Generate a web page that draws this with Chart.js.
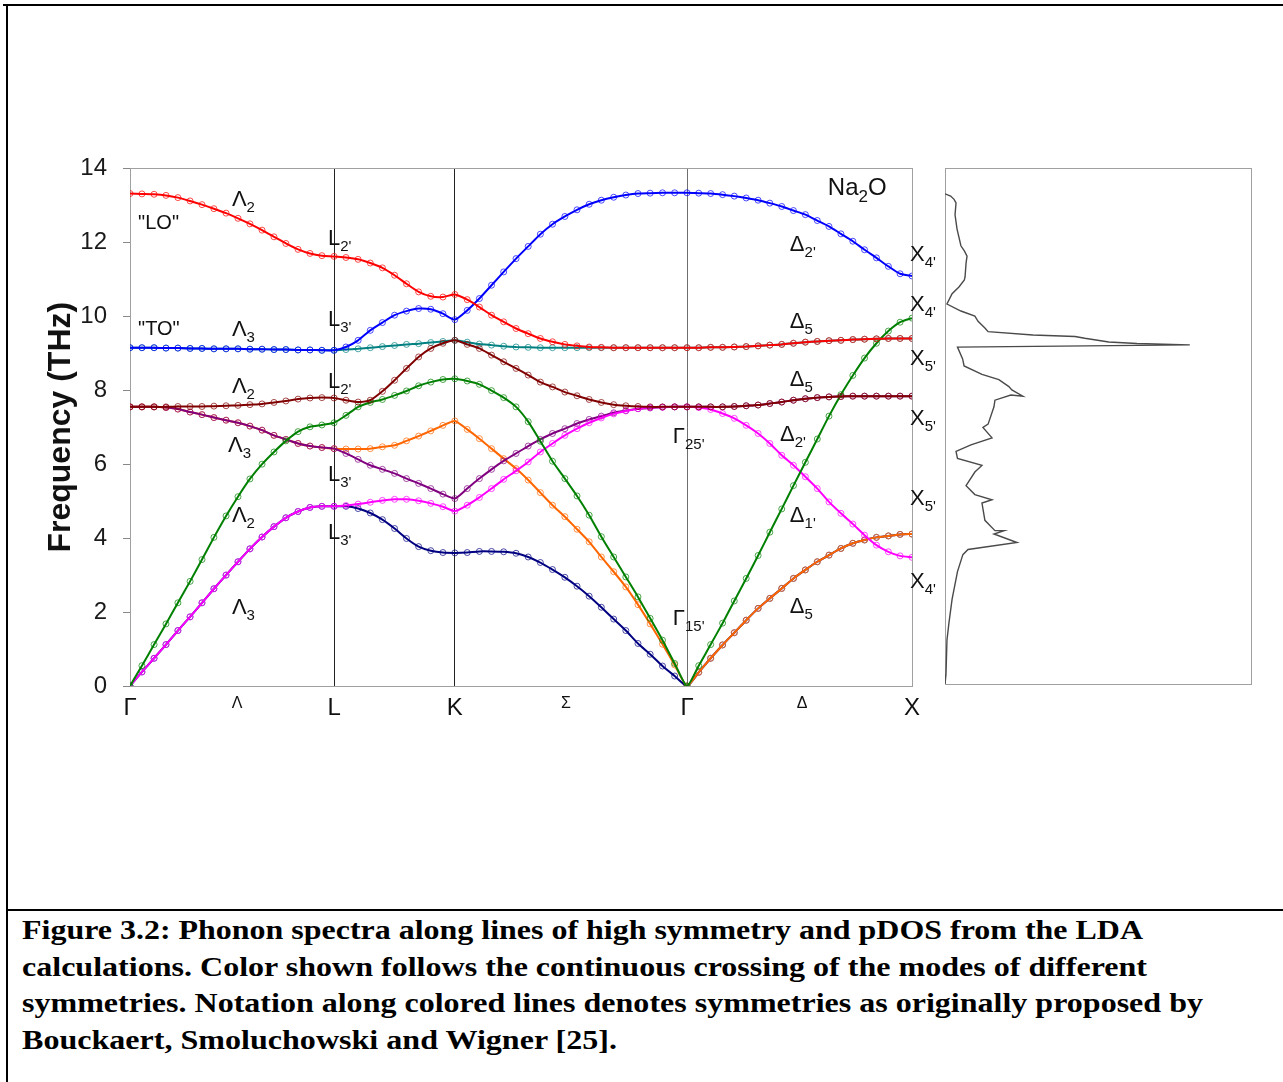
<!DOCTYPE html>
<html>
<head>
<meta charset="utf-8">
<title>Na2O phonon spectra</title>
<script src="https://cdn.jsdelivr.net/npm/chart.js@4.4.1/dist/chart.umd.min.js"></script>
<style>
  html, body { margin: 0; padding: 0; background: #fff; }
  body { width: 1283px; height: 1082px; position: relative; overflow: hidden; }
  .rule { position: absolute; background: #000; }
  #main { position: absolute; left: 30px; top: 138px; }
  #dos { position: absolute; left: 940px; top: 150px; }
  #caption {
    position: absolute; left: 22px; top: 912px;
    font-family: "Liberation Serif", "Times New Roman", serif;
    font-weight: bold; font-size: 28px; line-height: 36.5px; color: #000;
  }
  #caption div { white-space: nowrap; width: max-content; transform-origin: 0 0; }
</style>
</head>
<body>
<div class="rule" style="left:3px;top:4px;width:1280px;height:2px"></div>
<div class="rule" style="left:6px;top:4px;width:2px;height:1078px"></div>
<div class="rule" style="left:6px;top:909px;width:1277px;height:2px"></div>

<canvas id="main" width="915" height="592"></canvas>
<canvas id="dos" width="320" height="560"></canvas>

<div id="caption">
  <div data-w="1121">Figure 3.2: Phonon spectra along lines of high symmetry and pDOS from the LDA</div>
  <div data-w="1125">calculations. Color shown follows the continuous crossing of the modes of different</div>
  <div data-w="1181">symmetries. Notation along colored lines denotes symmetries as originally proposed by</div>
  <div data-w="595">Bouckaert, Smoluchowski and Wigner [25].</div>
</div>

<script>
// k-path coordinate (units of |ΓX|): Γ - L - K - Γ - X
const kPath = [
  0.000, 0.053, 0.107, 0.160, 0.213, 0.267, 0.320, 0.373, 0.427, 0.480, 0.533, 0.587, 0.640, 0.693, 0.747, 0.800, 0.853, 0.907,
  0.960, 1.014, 1.068, 1.122, 1.176, 1.229, 1.283, 1.337, 1.391, 1.444,
  1.499, 1.553, 1.607, 1.661, 1.716, 1.770, 1.824, 1.878, 1.933, 1.987, 2.041, 2.095, 2.150, 2.204, 2.258, 2.312, 2.367, 2.421, 2.476,
  2.528, 2.581, 2.634, 2.686, 2.739, 2.792, 2.844, 2.897, 2.949, 3.002, 3.055, 3.107, 3.160, 3.213, 3.265, 3.318, 3.371, 3.423, 3.476
];

// tick labels along the path
const tickPos = [0, 0.476, 0.907, 1.444, 1.938, 2.476, 2.987, 3.476];
const tickLabels = ['Γ', 'Λ', 'L', 'K', 'Σ', 'Γ', 'Δ', 'X'];
const yTicks = [0, 2, 4, 6, 8, 10, 12, 14];

// phonon branches (THz), one value per kPath point
const freqRed = [
  13.32, 13.31, 13.30, 13.27, 13.21, 13.12, 13.02, 12.91, 12.79, 12.65, 12.50, 12.33, 12.15, 11.97, 11.81, 11.70, 11.64, 11.62,
  11.59, 11.54, 11.44, 11.31, 11.11, 10.88, 10.66, 10.54, 10.52, 10.59,
  10.45, 10.25, 10.03, 9.85, 9.67, 9.53, 9.40, 9.31, 9.24, 9.20, 9.17, 9.16, 9.15, 9.15, 9.15, 9.15, 9.15, 9.15, 9.15,
  9.15, 9.16, 9.16, 9.17, 9.18, 9.20, 9.22, 9.24, 9.27, 9.30, 9.32, 9.34, 9.35, 9.37, 9.38, 9.39, 9.40, 9.40, 9.40
];
const freqBlue = [
  9.15, 9.15, 9.15, 9.14, 9.14, 9.13, 9.13, 9.12, 9.12, 9.12, 9.11, 9.11, 9.10, 9.10, 9.09, 9.09, 9.08, 9.08,
  9.17, 9.35, 9.62, 9.83, 10.03, 10.14, 10.21, 10.19, 10.07, 9.91,
  10.16, 10.48, 10.84, 11.20, 11.56, 11.89, 12.22, 12.49, 12.70, 12.88, 13.03, 13.14, 13.22, 13.28, 13.32, 13.33, 13.34, 13.34, 13.34,
  13.33, 13.32, 13.29, 13.25, 13.20, 13.14, 13.06, 12.97, 12.86, 12.75, 12.59, 12.43, 12.23, 12.03, 11.80, 11.58, 11.35, 11.15, 11.09
];
const freqTeal = [
  9.15, 9.15, 9.15, 9.14, 9.14, 9.13, 9.13, 9.12, 9.12, 9.12, 9.11, 9.11, 9.10, 9.10, 9.09, 9.09, 9.08, 9.08,
  9.10, 9.12, 9.15, 9.18, 9.21, 9.24, 9.26, 9.29, 9.32, 9.35,
  9.30, 9.25, 9.22, 9.19, 9.17, 9.16, 9.15, 9.15, 9.15, 9.15, 9.15, 9.15, 9.15, 9.15, 9.15, 9.15, 9.15, 9.15, 9.15,
  9.15, 9.16, 9.16, 9.17, 9.18, 9.20, 9.22, 9.24, 9.27, 9.30, 9.32, 9.34, 9.35, 9.37, 9.38, 9.39, 9.40, 9.40, 9.40
];
const freqMaroon = [
  7.55, 7.55, 7.55, 7.55, 7.56, 7.56, 7.56, 7.57, 7.58, 7.59, 7.61, 7.63, 7.67, 7.71, 7.76, 7.79, 7.80, 7.79,
  7.73, 7.68, 7.73, 7.97, 8.27, 8.59, 8.90, 9.13, 9.27, 9.35,
  9.24, 9.13, 8.95, 8.77, 8.59, 8.41, 8.22, 8.09, 7.95, 7.85, 7.75, 7.67, 7.61, 7.58, 7.56, 7.55, 7.55, 7.55, 7.55,
  7.55, 7.55, 7.55, 7.56, 7.58, 7.60, 7.64, 7.68, 7.73, 7.77, 7.80, 7.82, 7.83, 7.84, 7.84, 7.84, 7.84, 7.84, 7.84
];
const freqPurple = [
  7.55, 7.55, 7.55, 7.53, 7.49, 7.41, 7.34, 7.26, 7.19, 7.12, 7.03, 6.92, 6.78, 6.67, 6.56, 6.49, 6.45, 6.42,
  6.29, 6.13, 5.97, 5.86, 5.75, 5.61, 5.48, 5.34, 5.19, 5.07,
  5.34, 5.61, 5.86, 6.09, 6.29, 6.49, 6.67, 6.83, 6.96, 7.10, 7.21, 7.30, 7.39, 7.45, 7.50, 7.52, 7.54, 7.55, 7.55,
  7.55, 7.55, 7.55, 7.56, 7.58, 7.60, 7.64, 7.68, 7.73, 7.77, 7.80, 7.82, 7.83, 7.84, 7.84, 7.84, 7.84, 7.84, 7.84
];
const freqMagenta = [
  0.00, 0.38, 0.75, 1.12, 1.50, 1.87, 2.25, 2.63, 3.00, 3.36, 3.71, 4.03, 4.31, 4.55, 4.72, 4.83, 4.86, 4.86,
  4.88, 4.92, 4.97, 5.02, 5.05, 5.05, 5.01, 4.94, 4.85, 4.73,
  4.89, 5.10, 5.34, 5.59, 5.82, 6.06, 6.33, 6.56, 6.78, 6.96, 7.12, 7.25, 7.36, 7.44, 7.50, 7.53, 7.54, 7.55, 7.55,
  7.53, 7.48, 7.37, 7.24, 7.05, 6.83, 6.56, 6.24, 5.97, 5.66, 5.34, 4.98, 4.67, 4.38, 4.08, 3.81, 3.63, 3.52, 3.48
];
const freqGreen = [
  0.00, 0.55, 1.12, 1.68, 2.25, 2.83, 3.42, 4.02, 4.60, 5.12, 5.60, 6.00, 6.33, 6.63, 6.88, 7.01, 7.06, 7.12,
  7.32, 7.55, 7.67, 7.75, 7.86, 7.98, 8.12, 8.22, 8.29, 8.31,
  8.25, 8.16, 7.99, 7.80, 7.55, 7.15, 6.62, 6.08, 5.61, 5.14, 4.62, 4.04, 3.49, 2.95, 2.41, 1.83, 1.24, 0.61, 0.00,
  0.55, 1.12, 1.70, 2.30, 2.91, 3.53, 4.16, 4.79, 5.42, 6.05, 6.68, 7.30, 7.88, 8.40, 8.87, 9.27, 9.60, 9.84, 9.95
];
const freqOrange = [
  7.55, 7.55, 7.55, 7.53, 7.49, 7.41, 7.34, 7.26, 7.19, 7.12, 7.03, 6.92, 6.78, 6.67, 6.56, 6.49, 6.45, 6.42,
  6.41, 6.41, 6.42, 6.47, 6.51, 6.63, 6.76, 6.90, 7.05, 7.17,
  6.94, 6.69, 6.42, 6.15, 5.88, 5.57, 5.23, 4.89, 4.58, 4.24, 3.90, 3.49, 3.09, 2.68, 2.20, 1.68, 1.13, 0.57, 0.00,
  0.37, 0.75, 1.11, 1.44, 1.78, 2.10, 2.37, 2.64, 2.91, 3.14, 3.36, 3.54, 3.72, 3.86, 3.95, 4.02, 4.06, 4.10, 4.11
];
const freqNavy = [
  0.00, 0.38, 0.75, 1.12, 1.50, 1.87, 2.25, 2.63, 3.00, 3.36, 3.71, 4.03, 4.31, 4.55, 4.72, 4.83, 4.86, 4.86,
  4.86, 4.80, 4.68, 4.50, 4.26, 3.99, 3.77, 3.66, 3.61, 3.60,
  3.61, 3.64, 3.64, 3.63, 3.59, 3.49, 3.34, 3.15, 2.94, 2.70, 2.43, 2.13, 1.81, 1.50, 1.15, 0.86, 0.54, 0.27, 0.00,
  0.37, 0.75, 1.11, 1.44, 1.78, 2.10, 2.37, 2.64, 2.91, 3.14, 3.36, 3.54, 3.72, 3.86, 3.95, 4.02, 4.06, 4.10, 4.11
];

// phonon DOS (arbitrary units, peak = 1) vs frequency (THz), in drawing order
const dosFreq = [
  13.30, 13.24, 13.15, 13.05, 12.73, 12.35, 11.89, 11.75, 11.61, 11.42, 11.05, 10.96, 10.77, 10.59, 10.31, 10.12,
  9.98, 9.84, 9.66, 9.56, 9.47, 9.43, 9.38, 9.28, 9.24, 9.20, 9.14, 8.82, 8.63, 8.40, 8.26, 8.07, 7.98, 7.81,
  7.84, 7.70, 7.52, 7.05, 6.96, 6.68, 6.49, 6.31, 6.12, 5.93, 5.75, 5.38, 5.14, 5.00, 4.91, 4.44, 4.16, 4.16,
  4.07, 3.84, 3.65, 3.51, 3.05, 2.30, 1.65, 1.19, 0.26, 0.00
];
const dosValue = [
  0.000, 0.023, 0.037, 0.045, 0.041, 0.049, 0.065, 0.079, 0.090, 0.086, 0.082, 0.079, 0.057, 0.029, 0.008, 0.065,
  0.122, 0.135, 0.163, 0.176, 0.359, 0.531, 0.571, 0.669, 0.784, 1.000, 0.051, 0.072, 0.078, 0.151, 0.220, 0.261, 0.273, 0.318,
  0.269, 0.204, 0.200, 0.176, 0.155, 0.192, 0.106, 0.045, 0.051, 0.151, 0.122, 0.086, 0.122, 0.192, 0.151, 0.163, 0.204, 0.241,
  0.200, 0.294, 0.094, 0.073, 0.051, 0.029, 0.016, 0.008, 0.004, 0.000
];

// symmetry labels: [k, THz, parts (main, sub, main, ...), font size]
const symLabels = [
  [0.453, 13.16, ['Λ', '2'], 22],
  [0.036, 12.51, ['"LO"'], 20],
  [0.880, 12.08, ['L', "2'"], 22],
  [0.036, 9.65, ['"TO"'], 20],
  [0.453, 9.62, ['Λ', '3'], 22],
  [0.880, 9.89, ['L', "3'"], 22],
  [0.453, 8.08, ['Λ', '2'], 22],
  [0.880, 8.22, ['L', "2'"], 22],
  [0.436, 6.49, ['Λ', '3'], 22],
  [0.880, 5.70, ['L', "3'"], 22],
  [0.453, 4.59, ['Λ', '2'], 22],
  [0.880, 4.14, ['L', "3'"], 22],
  [0.453, 2.11, ['Λ', '3'], 22],
  [3.102, 13.46, ['Na', '2', 'O'], 24],
  [2.933, 11.92, ['Δ', "2'"], 22],
  [2.933, 9.86, ['Δ', '5'], 22],
  [2.933, 8.27, ['Δ', '5'], 22],
  [2.413, 6.73, ['Γ', "25'"], 22],
  [2.889, 6.78, ['Δ', "2'"], 22],
  [2.933, 4.59, ['Δ', "1'"], 22],
  [2.413, 1.81, ['Γ', "15'"], 22],
  [2.933, 2.14, ['Δ', '5'], 22],
  [3.467, 11.65, ['X', "4'"], 22],
  [3.467, 10.30, ['X', "4'"], 22],
  [3.467, 8.84, ['X', "5'"], 22],
  [3.467, 7.22, ['X', "5'"], 22],
  [3.467, 5.05, ['X', "5'"], 22],
  [3.467, 2.81, ['X', "4'"], 22]
];

const FONT = '"Liberation Sans", Arial, sans-serif';
Chart.defaults.font.family = FONT;
Chart.defaults.color = '#1a1a1a';

function withAlpha(hex, a) {
  const n = parseInt(hex.slice(1), 16);
  return `rgba(${(n >> 16) & 255}, ${(n >> 8) & 255}, ${n & 255}, ${a})`;
}

// first dataset is drawn on top
const branches = [
  { values: freqRed, color: '#ff0000' },
  { values: freqBlue, color: '#0000ff' },
  { values: freqMaroon, color: '#800000' },
  { values: freqGreen, color: '#008000' },
  { values: freqMagenta, color: '#ff00ff' },
  { values: freqPurple, color: '#800080' },
  { values: freqOrange, color: '#ff6600' },
  { values: freqNavy, color: '#000080' },
  { values: freqTeal, color: '#008080' }
];

const plotFrame = {
  id: 'plotFrame',
  beforeDatasetsDraw(chart) {
    const { ctx, chartArea: a } = chart;
    ctx.save();
    ctx.strokeStyle = '#a0a0a0';
    ctx.lineWidth = 1;
    ctx.strokeRect(Math.round(a.left) + 0.5, Math.round(a.top) + 0.5,
      Math.round(a.right - a.left), Math.round(a.bottom - a.top));
    ctx.restore();
  }
};

const symmetryText = {
  id: 'symmetryText',
  afterDatasetsDraw(chart) {
    const { ctx, scales: { x, y } } = chart;
    ctx.save();
    ctx.fillStyle = '#111';
    ctx.textBaseline = 'middle';
    ctx.textAlign = 'left';
    symLabels.forEach(([k, f, parts, size]) => {
      let px = x.getPixelForValue(k);
      const py = y.getPixelForValue(f);
      parts.forEach((p, i) => {
        const sub = i % 2 === 1;
        ctx.font = (sub ? Math.round(size * 0.7) : size) + 'px ' + FONT;
        ctx.fillText(p, px, sub ? py + size * 0.36 : py);
        px += ctx.measureText(p).width;
      });
    });
    ctx.restore();
  }
};

// Main band structure
new Chart(document.getElementById('main'), {
  type: 'line',
  data: {
    datasets: branches.map(b => ({
      data: kPath.map((k, i) => ({ x: k, y: b.values[i] })),
      borderColor: b.color,
      borderWidth: 2,
      tension: 0.2,
      pointRadius: 3,
      pointBorderWidth: 1,
      pointBackgroundColor: 'rgba(255,255,255,0)',
      pointBorderColor: withAlpha(b.color, 0.7),
      fill: false
    }))
  },
  options: {
    responsive: false,
    animation: false,
    devicePixelRatio: 1,
    layout: { padding: { left: 0, right: 33, top: 6, bottom: 0 } },
    plugins: { legend: { display: false }, tooltip: { enabled: false } },
    scales: {
      x: {
        type: 'linear',
        min: 0,
        max: 3.476,
        afterBuildTicks: scale => { scale.ticks = tickPos.map(v => ({ value: v })); },
        afterFit: scale => { scale.height = 44; },
        grid: {
          drawTicks: false,
          lineWidth: 1,
          color: ctx => {
            const lab = tickLabels[ctx.index];
            if (ctx.index === 5) return '#6e6e6e';
            if (lab === 'L' || lab === 'K') return '#222';
            return 'rgba(0,0,0,0)';
          }
        },
        border: { color: '#a0a0a0' },
        ticks: {
          autoSkip: false,
          maxRotation: 0,
          padding: 8,
          color: '#111',
          font: ctx => ({ size: ['Λ', 'Σ', 'Δ'].includes(tickLabels[ctx.index]) ? 16 : 24 }),
          callback: (v, i) => tickLabels[i]
        }
      },
      y: {
        min: 0,
        max: 14,
        afterBuildTicks: scale => { scale.ticks = yTicks.map(v => ({ value: v })); },
        afterFit: scale => { scale.width = 100; },
        grid: { drawOnChartArea: false, drawTicks: true, tickLength: 7, color: '#888' },
        border: { color: '#a0a0a0' },
        ticks: { padding: 16, color: '#1a1a1a', font: { size: 24 } },
        title: {
          display: true,
          text: 'Frequency (THz)',
          color: '#111',
          font: { size: 32, weight: 'bold' },
          padding: { top: 12, bottom: 0 }
        }
      }
    }
  },
  plugins: [plotFrame, symmetryText]
});

// Phonon DOS panel
new Chart(document.getElementById('dos'), {
  type: 'line',
  data: {
    datasets: [{
      data: dosFreq.map((f, i) => ({ x: dosValue[i], y: f })),
      borderColor: '#4a4a4a',
      borderWidth: 1.4,
      pointRadius: 0,
      tension: 0,
      fill: false
    }]
  },
  options: {
    responsive: false,
    animation: false,
    devicePixelRatio: 1,
    layout: { padding: { left: 5, right: 9, top: 18, bottom: 26 } },
    plugins: { legend: { display: false }, tooltip: { enabled: false } },
    scales: {
      x: { type: 'linear', min: 0, max: 1.25, display: false },
      y: { type: 'linear', min: 0, max: 14, display: false }
    }
  },
  plugins: [plotFrame]
});

// fit caption lines to the original line widths
document.querySelectorAll('#caption div').forEach(line => {
  const target = Number(line.dataset.w);
  const w = line.getBoundingClientRect().width;
  if (w > 0) line.style.transform = 'scaleX(' + (target / w).toFixed(4) + ')';
});
</script>
</body>
</html>
